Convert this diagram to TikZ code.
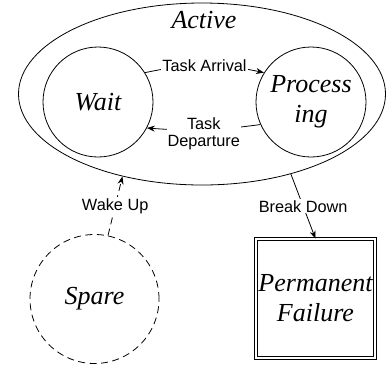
\documentclass[tikz,border=0pt]{standalone}
\usepackage{fontspec}
\setmainfont{Liberation Serif}
\setsansfont{Liberation Sans}
\usetikzlibrary{shapes.geometric,arrows.meta}
\begin{document}
\begin{tikzpicture}[x=1pt,y=-1pt,
  every path/.style={line width=0.8pt},
  st/.style={draw, circle, inner sep=0pt, minimum size=110pt, align=center,
    font=\itshape\fontsize{26}{30}\selectfont},
  lbl/.style={fill=white, inner sep=1pt, align=center,
    font=\sffamily\fontsize{16.3}{17.5}\selectfont},
  arr/.style={-{Stealth[length=8pt,width=6pt]}},
  dsh/.style={dash pattern=on 7pt off 4.5pt}]
\useasboundingbox (0,0) rectangle (386,368);
\node[draw, ellipse, inner sep=0pt, minimum width=367pt, minimum height=182pt] (act) at (202,94) {};
\node[anchor=base, font=\itshape\fontsize{26}{30}\selectfont] (actlbl) at (204,28) {Active};
\node[st] (wait) at (98,102) {Wait};
\node[st] (proc) at (311,102) {Process\\ing};
\node[st, dsh, minimum size=129pt] (spare) at (94.5,299) {Spare};
\node[draw, double, double distance=2.5pt, line width=0.6pt, inner sep=0pt,
  minimum size=119pt, align=center, font=\itshape\fontsize{26}{30}\selectfont]
  (fail) at (315.5,298.5) {Permanent\\Failure};
\draw[arr] (wait.32) to[bend left=12] node[lbl] {Task Arrival} (proc.148);
\draw[arr] (proc.-156) to[bend left=6] node[lbl, yshift=-4pt] {Task\\Departure} (wait.-28);
\draw[arr, dsh] (spare.78) -- node[lbl] {Wake Up} (act.-134);
\draw[arr] (act.-42) -- node[lbl] {Break Down} (fail.north);
\end{tikzpicture}
\end{document}
